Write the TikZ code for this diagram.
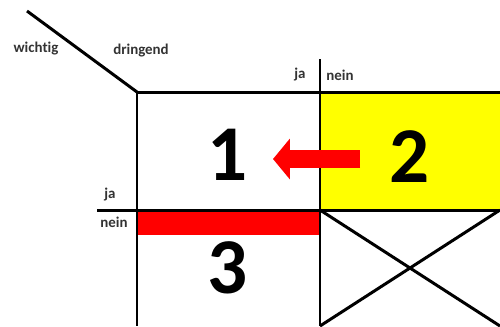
\documentclass[tikz,border=0pt]{standalone}
\usepackage{fontspec}
\setmainfont{Carlito}[Ligatures=NoCommon]
\usetikzlibrary{arrows.meta}
\definecolor{myyellow}{HTML}{FFFF00}
\definecolor{myred}{HTML}{FF0000}
\tikzset{
	gridline/.style={
			line width=1.7pt,
			draw=black
		},
	smalllabel/.style={
			font=\fontsize{8.5}{10}\selectfont\bfseries,
			text=black!80,
			inner sep=0pt
		},
	numnode/.style={
			font=\fontsize{45}{50}\selectfont\bfseries,
			inner sep=0pt
		},
	movearrow/.style={
			myred,
			line width=10pt,
			-{Triangle[length=9.6pt, width=22.7pt]}
		}
}

\begin{document}
\begin{tikzpicture}[x=0.02cm, y=-0.02cm]
\useasboundingbox (0,0) rectangle (500,326);

% fields
\fill[myyellow] (320,92) rectangle (500,210);
\fill[myred] (137,211) rectangle (320,235);

% grid
\coordinate (corner) at (137,92);
\draw[gridline] (27,11) -- (corner);
\draw[gridline] (corner) -- (500,92);
\draw[gridline] (corner) -- (137,326);
\draw[gridline] (320,59) -- (320,326);
\draw[gridline] (97,210) -- (500,210);
\draw[gridline] (320,210) -- (500,326);
\draw[gridline] (500,210) -- (320,326);

% labels
\node[smalllabel] (w) at (36,49) {wichtig};
\node[smalllabel] (d) at (141,51) {dringend};
\node[smalllabel] (ja1) at (300,75) {ja};
\node[smalllabel] (nein1) at (340,75) {nein};
\node[smalllabel] (ja2) at (110,195) {ja};
\node[smalllabel] (nein2) at (114,222) {nein};

% quadrants
\node[numnode] (q1) at (228,155) {1};
\node[numnode] (q2) at (410,157) {2};
\node[numnode] (q3) at (228,268) {3};

\coordinate (from) at (360,159);
\coordinate (to) at (273,159);
\draw[movearrow] (from) -- (to);
\end{tikzpicture}
\end{document}
